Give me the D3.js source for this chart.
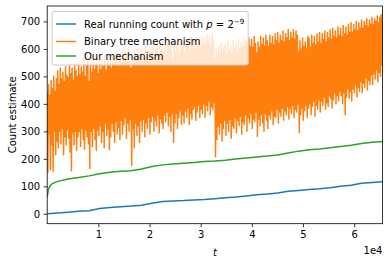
<!DOCTYPE html>
<html>
<head>
<meta charset="utf-8">
<script src="https://cdn.jsdelivr.net/npm/d3@7"></script>
<style>
  body { margin: 0; background: #fff; }
  svg { display: block; font-family: "DejaVu Sans", sans-serif; }
</style>
</head>
<body>
<div id="chart"></div>
<script>
// values
var xTicks = [10000, 20000, 30000, 40000, 50000, 60000];
var xTickLabels = ["1", "2", "3", "4", "5", "6"];
var yTicks = [0, 100, 200, 300, 400, 500, 600, 700];

// real running count, sampled every 2048 steps
var realT = d3.range(0, 65537, 2048);
var realCount = [0, 3, 6, 9, 11, 19, 23, 26, 28, 31, 38, 45, 47, 48, 50, 52,
  55, 58, 61, 65, 69, 72, 76, 82, 85, 88, 91, 95, 100, 104, 111, 114, 117];

// our mechanism
var oursT = [0, 256, 512, 1024, 2048, 4096, 6144, 8192, 10240, 12288, 14336, 16384,
  18432, 20480, 22528, 24576, 26624, 28672, 30720, 32768, 34816, 36864, 38912,
  40960, 43008, 45056, 47104, 49152, 51200, 53248, 55296, 57344, 59392, 61440,
  63488, 65536];
var oursCount = [62, 90, 100, 110, 118, 127, 132, 138, 146, 151, 155, 157, 163,
  172, 178, 181, 184, 187, 190, 192, 195, 199, 203, 207, 210, 214, 221, 228,
  233, 236, 240, 245, 249, 256, 260, 263];

// binary tree mechanism, every 128 steps (very noisy), one row per 2048 steps
var treeT = d3.range(0, 65537, 128);
var treeCount = [
  440,150, 470,290, 430,160, 485,250, 455,155, 500,300, 445,215, 490,265,
  520,240, 470,300, 530,255, 490,310, 515,215, 480,280, 535,250, 505,305,
  495,275, 540,225, 510,157, 530,295, 485,250, 545,300, 520,230, 500,280,
  550,300, 505,245, 535,310, 515,270, 555,235, 500,305, 540,280, 560,255,
  480,165, 545,300, 515,245, 560,310, 525,270, 540,230, 570,305, 510,285,
  555,320, 525,260, 565,300, 535,240, 575,330, 520,285, 560,310, 545,233,
  570,280, 530,330, 580,300, 545,260, 560,335, 590,290, 535,315, 575,270,
  585,340, 550,290, 600,325, 560,350, 590,275, 570,330, 605,300, 555,345,
  530,176, 575,310, 550,240, 590,330, 560,285, 600,320, 570,260, 585,340,
  600,300, 560,345, 590,280, 610,330, 575,310, 595,350, 565,290, 605,335,
  590,355, 615,300, 575,340, 600,320, 620,360, 585,295, 610,345, 595,330,
  625,310, 590,360, 610,335, 580,370, 630,320, 600,355, 615,300, 595,365,
  560,259, 610,330, 590,365, 625,310, 600,350, 580,375, 630,325, 605,360,
  620,330, 590,375, 635,350, 605,385, 625,325, 595,365, 640,345, 610,380,
  630,390, 600,340, 645,370, 615,395, 635,350, 605,380, 650,365, 620,400,
  640,350, 610,395, 650,375, 625,410, 645,360, 615,390, 655,380, 630,405,
  550,208, 600,270, 575,320, 610,290, 585,330, 620,265, 590,310, 605,340,
  615,285, 580,330, 625,300, 595,345, 610,275, 585,320, 630,310, 600,350,
  620,295, 590,340, 635,320, 600,355, 625,290, 605,335, 640,325, 610,360,
  630,300, 600,350, 640,330, 610,365, 635,310, 605,345, 645,335, 620,370,
  585,281, 625,345, 605,320, 645,360, 615,330, 640,300, 610,365, 650,340,
  630,310, 610,360, 650,345, 620,375, 645,325, 615,355, 655,350, 630,380,
  660,330, 620,370, 650,355, 630,385, 665,340, 625,375, 655,360, 640,390,
  670,345, 630,385, 660,365, 640,395, 670,350, 635,380, 665,370, 650,400,
  590,295, 630,360, 600,385, 640,340, 610,375, 625,395, 600,350, 645,385,
  640,400, 605,360, 650,390, 620,410, 645,355, 615,395, 655,380, 625,415,
  660,370, 620,410, 655,395, 635,425, 665,380, 625,405, 660,390, 640,430,
  670,420, 635,385, 675,415, 645,440, 665,400, 640,430, 680,410, 650,445,
  675,430, 645,400, 685,440, 655,360, 680,425, 650,455, 690,420, 660,445,
  695,410, 660,455, 690,440, 670,470, 700,425, 665,460, 695,445, 675,480,
  705,440, 675,475, 700,460, 685,495, 710,450, 680,485, 705,470, 690,505,
  715,470, 690,510, 710,490, 700,525, 720,480, 695,515, 715,500, 725,540,
  700];

var width = 389, height = 264;
var margin = { top: 6, right: 6.5, bottom: 40.3, left: 47.2 };
var innerW = width - margin.left - margin.right,
  innerH = height - margin.top - margin.bottom;

var x = d3.scaleLinear().domain([0, 65536]).range([0, innerW]);
var y = d3.scaleLinear().domain([-36, 756]).range([innerH, 0]);

var svg = d3.select("#chart").append("svg")
  .attr("width", width)
  .attr("height", height);

var g = svg.append("g")
  .attr("transform", `translate(${margin.left},${margin.top})`);

g.append("clipPath").attr("id", "clip")
  .append("rect").attr("width", innerW).attr("height", innerH);

var line = d3.line()
  .x(function (d) { return x(d[0]); })
  .y(function (d) { return y(d[1]); });

var series = [
  { name: "real", color: "#1f77b4", pts: d3.zip(realT, realCount) },
  { name: "tree", color: "#ff7f0e", pts: d3.zip(treeT, treeCount) },
  { name: "ours", color: "#2ca02c", pts: d3.zip(oursT, oursCount) }
];

g.append("g").attr("clip-path", "url(#clip)")
  .selectAll("path")
  .data(series)
  .join("path")
  .attr("fill", "none")
  .attr("stroke", function (d) { return d.color; })
  .attr("stroke-width", 1.5)
  .attr("stroke-linejoin", "round")
  .attr("d", function (d) { return line(d.pts); });

// axes
var xAxis = d3.axisBottom(x).tickValues(xTicks)
  .tickFormat(function (d, i) { return xTickLabels[i]; })
  .tickSize(3.5).tickPadding(3.5);
var yAxis = d3.axisLeft(y).tickValues(yTicks).tickSize(3.5).tickPadding(3.5);

var gx = g.append("g").attr("transform", `translate(0,${innerH})`).call(xAxis);
var gy = g.append("g").call(yAxis);
[gx, gy].forEach(function (a) {
  a.select(".domain").remove();
  a.selectAll(".tick line").attr("stroke", "#000").attr("stroke-width", 0.8);
  a.selectAll(".tick text").attr("fill", "#000")
    .style("font-family", "DejaVu Sans").style("font-size", "10px");
});

// frame
g.append("rect")
  .attr("width", innerW).attr("height", innerH)
  .attr("fill", "none").attr("stroke", "#000").attr("stroke-width", 0.8);

// labels
svg.append("text")
  .attr("transform", `translate(12,${margin.top + innerH / 2}) rotate(-90)`)
  .attr("text-anchor", "middle")
  .attr("dy", "0.35em")
  .style("font-size", "10px")
  .text("Count estimate");

svg.append("text")
  .attr("x", margin.left + innerW / 2)
  .attr("y", 256)
  .attr("text-anchor", "middle")
  .style("font-size", "10px")
  .style("font-style", "italic")
  .text("t");

svg.append("text")
  .attr("x", margin.left + innerW)
  .attr("y", 253.5)
  .attr("text-anchor", "end")
  .style("font-size", "10px")
  .text("1e4");

// legend
var legend = svg.append("g");
legend.append("rect")
  .attr("x", 52.2).attr("y", 11.5)
  .attr("width", 196).attr("height", 53.5)
  .attr("rx", 2)
  .attr("fill", "#fff").attr("fill-opacity", 0.8)
  .attr("stroke", "#cccccc").attr("stroke-width", 1);

var rowY = [24, 41.5, 56];
var items = legend.selectAll("g.item")
  .data(series)
  .join("g")
  .attr("class", "item")
  .attr("transform", function (d, i) { return `translate(0,${rowY[i]})`; });

items.append("line")
  .attr("x1", 56).attr("x2", 76)
  .attr("stroke", function (d) { return d.color; })
  .attr("stroke-width", 1.5);

var labels = items.append("text")
  .attr("x", 84)
  .attr("dy", "0.35em")
  .style("font-size", "10px");

labels.filter(function (d) { return d.name === "tree"; }).text("Binary tree mechanism");
labels.filter(function (d) { return d.name === "ours"; }).text("Our mechanism");
var realLabel = labels.filter(function (d) { return d.name === "real"; });
realLabel.append("tspan").text("Real running count with ");
realLabel.append("tspan").style("font-style", "italic").text("p");
realLabel.append("tspan").text(" = 2");
realLabel.append("tspan").attr("dy", "-0.45em").style("font-size", "7px").text("\u22129");
</script>
</body>
</html>
